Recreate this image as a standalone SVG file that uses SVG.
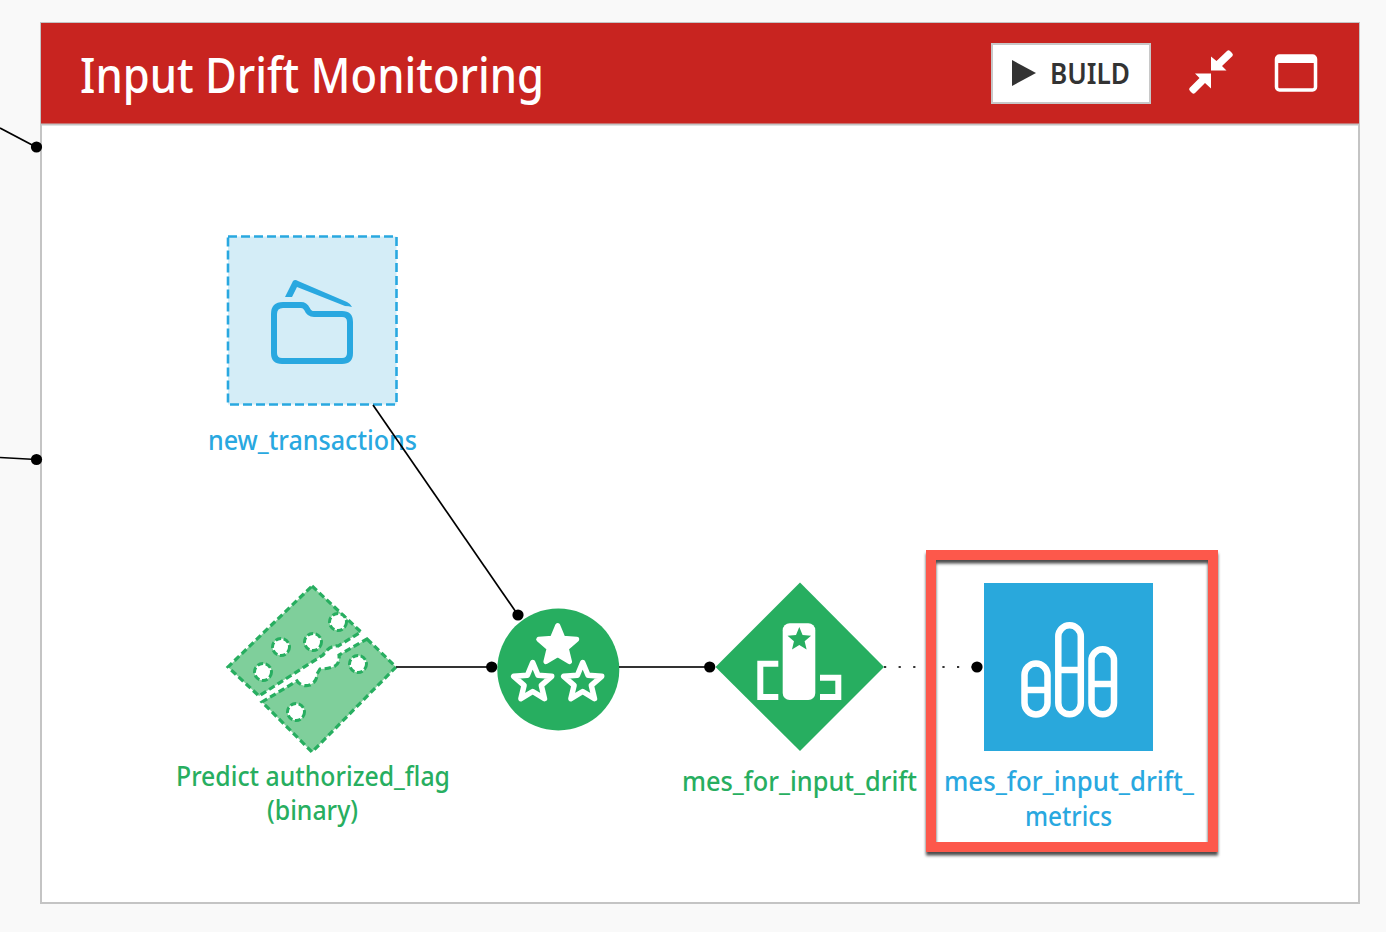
<svg xmlns="http://www.w3.org/2000/svg" xmlns:xlink="http://www.w3.org/1999/xlink" width="1386" height="932" viewBox="0 0 1386 932">
<style>
text{font-family:"Noto Sans","Open Sans","Liberation Sans",sans-serif}
.lbl{font-size:26.5px;font-weight:500;text-anchor:start}
.g{fill:#27ae60}
.b{fill:#29a8e0}
.ln{stroke:#333;stroke-width:2.2;fill:none}
.thin{stroke:#000;stroke-width:1.7;fill:none}
.dot{fill:#000}
.pill{fill:none;stroke:#fff;stroke-width:6.5}
.dash{fill:#7fcf9b;stroke:#27ae60;stroke-width:3.2;stroke-dasharray:6.5 3.5}
.hole{fill:#fff;stroke:#27ae60;stroke-width:3;stroke-dasharray:6 2.5}
</style>
<defs>
<polygon id="star" points="0,-20 5.3,-7.3 19,-6.2 8.6,2.8 11.8,16.2 0,9 -11.8,16.2 -8.6,2.8 -19,-6.2 -5.3,-7.3" stroke-linejoin="round"/>
<filter id="sh" x="-5%" y="-5%" width="110%" height="110%"><feDropShadow dx="0" dy="3.5" stdDeviation="1.8" flood-color="#000" flood-opacity="0.7"/></filter>
</defs>
<rect width="1386" height="932" fill="#f9f9f9"/>
<g id="zone">
<rect x="41" y="23" width="1318" height="880" fill="#fff" stroke="#c4c4c4" stroke-width="2"/>
<rect x="41" y="23" width="1318" height="101" fill="#c82420"/>
<line x1="41" y1="124.5" x2="1359" y2="124.5" stroke="#c4c4c4" stroke-width="2"/>
<text x="80" y="93" font-size="49" font-weight="500" fill="#fff" textLength="464" lengthAdjust="spacingAndGlyphs">Input Drift Monitoring</text>
<g id="build">
<rect x="992" y="44" width="158" height="59" fill="#fff" stroke="#c8c8c8" stroke-width="2"/>
<polygon points="1012,60 1036,73 1012,86" fill="#333"/>
<text x="1050" y="84" font-size="28" font-weight="600" fill="#333" textLength="80" lengthAdjust="spacingAndGlyphs">BUILD</text>
</g>
<g id="collapse" fill="#fff">
<path d="M1211,73.5 H1195 L1199.5,78 L1189.5,88 Q1188.5,89.5 1190,91 L1192,93 Q1193.5,94.5 1195,93 L1205,83 L1211,88.5 Z"/>
<path d="M1211,70.5 H1226.5 L1222,66 L1232.5,56 Q1233.5,54.5 1232,53 L1230,51 Q1228.5,49.5 1227,51 L1216.5,61 L1211,56.5 Z"/>
</g>
<g id="window">
<rect x="1276.5" y="56" width="39" height="34" rx="3" fill="none" stroke="#fff" stroke-width="3.5"/>
<rect x="1276.5" y="56" width="39" height="7" fill="#fff"/>
</g>
</g>
<g id="new_transactions">
<rect x="228" y="236.5" width="168.5" height="168" fill="#d4edf7" stroke="#29a8e0" stroke-width="2.6" stroke-dasharray="9 4"/>
<path d="M274,314 Q274,305 283,305 H301 Q305,305 307,309 Q309,314 314,314 H342 Q350,314 350,322 V353 Q350,361 342,361 H282 Q274,361 274,353 Z" fill="none" stroke="#29a8e0" stroke-width="6"/>
<path d="M285,297 L293,281 Q295,279 298,281 L347,302 Q351,304 352,307 Q349,306 345,306 L297,287 L292,297 Z" fill="#29a8e0"/>
<text class="lbl b" x="208" y="450" textLength="209" lengthAdjust="spacingAndGlyphs">new_transactions</text>
</g>
<g id="predict_model">
<path class="dash" d="M312,586 L361,632 L338,646 Q330,645 323,655 L259,696 L228,667 Z"/>
<path class="dash" d="M367,639 L396,667 L312,752 L262,702 L297,681 A11,11 0 0 0 317,674 L320,669 Q329,669 335,666 Q340,663 339,655 Z"/>
<circle class="hole" cx="338" cy="622" r="8.5"/>
<circle class="hole" cx="313" cy="642" r="8.5"/>
<circle class="hole" cx="281" cy="647" r="8.5"/>
<circle class="hole" cx="263" cy="672" r="8.5"/>
<circle class="hole" cx="358" cy="664" r="8.5"/>
<circle class="hole" cx="296" cy="712" r="8.5"/>
<text class="lbl g" x="176" y="786" textLength="274" lengthAdjust="spacingAndGlyphs">Predict authorized_flag</text>
<text class="lbl g" x="267" y="820" textLength="91" lengthAdjust="spacingAndGlyphs">(binary)</text>
</g>
<g id="evaluate_recipe">
<circle cx="558.3" cy="669.5" r="61" fill="#27ae60"/>
<use xlink:href="#star" href="#star" x="557.7" y="645.5" fill="#fff" stroke="#fff" stroke-width="5"/>
<use xlink:href="#star" href="#star" x="532.7" y="682.5" fill="#27ae60" stroke="#fff" stroke-width="5.5"/>
<use xlink:href="#star" href="#star" x="582.7" y="682.5" fill="#27ae60" stroke="#fff" stroke-width="5.5"/>
</g>
<g id="mes_for_input_drift">
<polygon points="800,582.5 884,667 800,751 715.5,667" fill="#27ae60"/>
<rect x="782.7" y="623.3" width="32.6" height="76.7" rx="7" fill="#fff"/>
<use xlink:href="#star" href="#star" transform="translate(799.3 639.5) scale(.62)" fill="#27ae60"/>
<path d="M778.3,660.7 H757.3 V700 H778.3 V694 H763.3 V666.7 H778.3 Z" fill="#fff"/>
<path d="M820,674.7 H841.3 V700 H820 V694 H835.3 V680.7 H820 Z" fill="#fff"/>
<text class="lbl g" x="682" y="791" textLength="235" lengthAdjust="spacingAndGlyphs">mes_for_input_drift</text>
</g>
<g id="mes_for_input_drift_metrics">
<rect x="984" y="583" width="169" height="168" fill="#29a8dc"/>
<rect class="pill" x="1024.5" y="663.5" width="23" height="51" rx="11.5"/>
<line class="pill" x1="1024" y1="690" x2="1048" y2="690"/>
<rect class="pill" x="1058.3" y="625.3" width="22.5" height="89" rx="11.2"/>
<line class="pill" x1="1058" y1="670" x2="1081" y2="670"/>
<rect class="pill" x="1091.5" y="649.3" width="22.5" height="65" rx="11.2"/>
<line class="pill" x1="1091" y1="684" x2="1114" y2="684"/>
<text class="lbl b" x="944" y="791" textLength="250" lengthAdjust="spacingAndGlyphs">mes_for_input_drift_</text>
<text class="lbl b" x="1025" y="826" textLength="87" lengthAdjust="spacingAndGlyphs">metrics</text>
</g>
<g id="connectors">
<line class="thin" x1="0" y1="128" x2="36" y2="147"/>
<circle class="dot" cx="36.5" cy="147" r="5.6"/>
<line class="thin" x1="0" y1="457.5" x2="36" y2="459.5"/>
<circle class="dot" cx="36.5" cy="459.5" r="5.6"/>
<line class="thin" x1="373" y1="405" x2="518" y2="615"/>
<circle class="dot" cx="518" cy="615" r="5.6"/>
<line class="ln" x1="396" y1="667" x2="492" y2="667"/>
<circle class="dot" cx="491.7" cy="667" r="5.6"/>
<line class="ln" x1="619" y1="667" x2="710" y2="667"/>
<circle class="dot" cx="709.7" cy="667" r="5.6"/>
<line x1="884" y1="667" x2="977" y2="667" stroke="#333" stroke-width="2.2" stroke-dasharray="2.2 12.4"/>
<circle class="dot" cx="977" cy="667" r="5.6"/>
</g>
<rect id="highlight" x="931" y="555" width="282" height="292" fill="none" stroke="#fd594c" stroke-width="10" filter="url(#sh)"/>
</svg>
